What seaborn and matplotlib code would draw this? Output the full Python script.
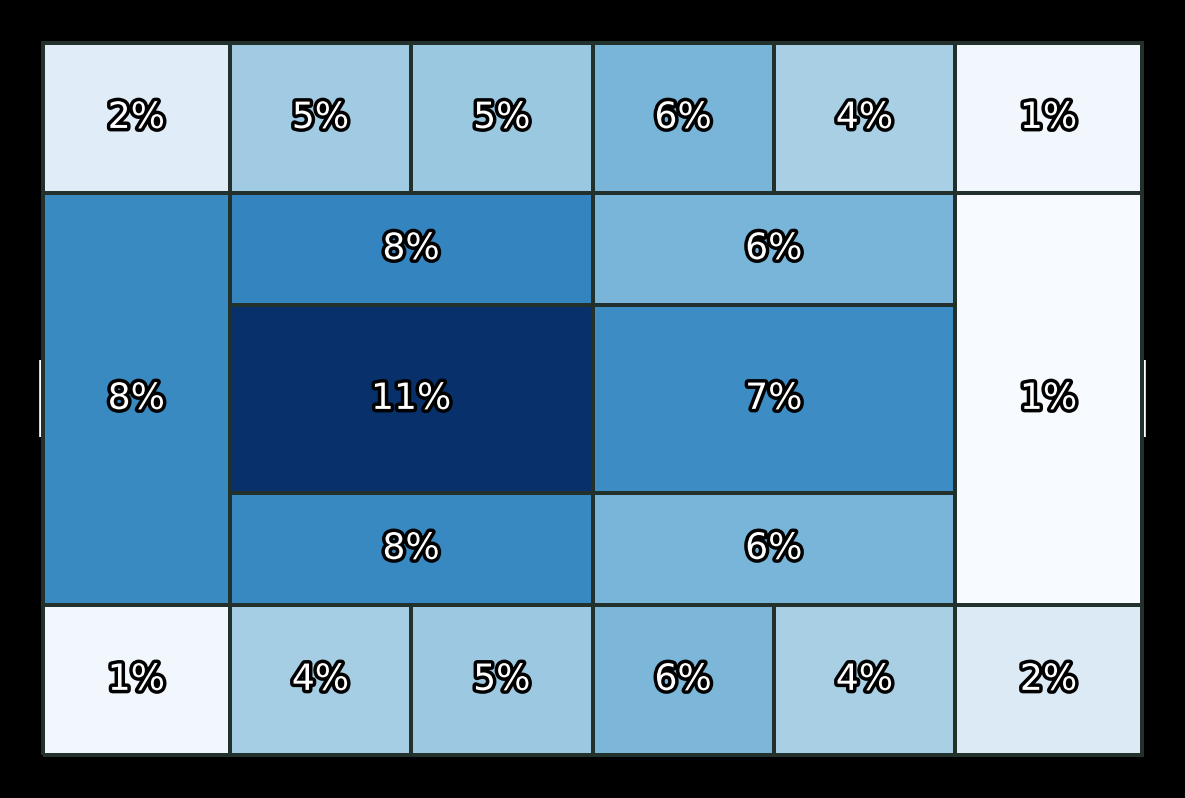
import numpy as np
import pandas as pd
import matplotlib
matplotlib.use("Agg")
import matplotlib.pyplot as plt
import matplotlib.patheffects as pe
import seaborn as sns

# Positional bin edges (opta-like 0-100 pitch)
x_edges_full = [0, 17, 33.5, 50, 66.5, 83, 100]
x_edges_halfspace = [17, 50, 83]
y_edges_top = [78.9, 100]
y_edges_bottom = [0, 21.1]
y_edges_middle = [21.1, 36.8, 63.2, 78.9]
y_edges_wing = [21.1, 78.9]
x_edges_left = [0, 17]
x_edges_right = [83, 100]

# Share of actions per zone (%)
top_row = [1.9, 4.55, 4.75, 5.6, 4.3, 1.0]
bottom_row = [1.0, 4.4, 4.7, 5.52, 4.3, 2.1]
left_wing = [7.55]
right_wing = [0.7]
halfspace_top = [7.8, 5.6]
halfspace_centre = [11.2, 7.45]
halfspace_bottom = [7.65, 5.6]

sns.set_theme(style="white")

fig = plt.figure(figsize=(11.85, 7.98), dpi=100, facecolor="black")
ax = fig.add_axes([0, 0, 1, 1])
ax.set_facecolor("black")

all_vals = top_row + bottom_row + left_wing + right_wing + halfspace_top + halfspace_centre + halfspace_bottom
vmin, vmax = min(all_vals), max(all_vals)


def region(xe, ye, grid):
    """grid: rows ordered bottom -> top, columns left -> right"""
    xs, ys, ws = [], [], []
    for j, row in enumerate(grid):
        for i, v in enumerate(row):
            xs.append((xe[i] + xe[i + 1]) / 2)
            ys.append((ye[j] + ye[j + 1]) / 2)
            ws.append(v)
    return pd.DataFrame({"x": xs, "y": ys, "w": ws}), [list(xe), list(ye)]


regions = [
    region(x_edges_full, y_edges_top, [top_row]),
    region(x_edges_full, y_edges_bottom, [bottom_row]),
    region(x_edges_left, y_edges_wing, [left_wing]),
    region(x_edges_right, y_edges_wing, [right_wing]),
    region(x_edges_halfspace, y_edges_middle, [halfspace_bottom, halfspace_centre, halfspace_top]),
]

# goals (drawn under the heatmap)
ax.plot([0, 0], [44.6, 55.4], color="white", lw=5.5, solid_capstyle="butt", zorder=0.5)
ax.plot([100, 100], [44.6, 55.4], color="white", lw=5.5, solid_capstyle="butt", zorder=0.5)

for df, bins in regions:
    sns.histplot(data=df, x="x", y="y", weights="w", bins=bins, cmap="Blues",
                 vmin=vmin, vmax=vmax, edgecolor="#22312b", linewidth=2.7,
                 ax=ax, cbar=False, thresh=None)
    for _, r in df.iterrows():
        ax.text(r["x"], r["y"], f"{r['w']:.0f}%", ha="center", va="center",
                fontsize=26, color="white", zorder=5,
                path_effects=[pe.withStroke(linewidth=5, foreground="black")])

ax.set_xlim(-3.913, 103.913)
ax.set_ylim(-6.038, 106.01)
ax.axis("off")

fig.savefig("out.png", dpi=100, facecolor="black")
